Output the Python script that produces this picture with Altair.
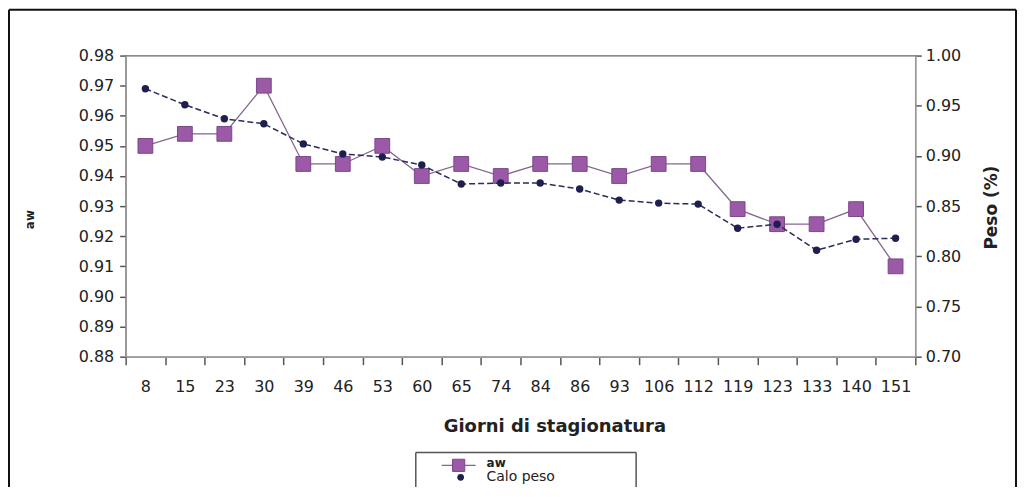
import altair as alt
import pandas as pd

# ---- data ----
giorni = ["8", "15", "23", "30", "39", "46", "53", "60", "65", "74",
          "84", "86", "93", "106", "112", "119", "123", "133", "140", "151"]
aw = [0.950, 0.954, 0.954, 0.970, 0.944, 0.944, 0.950, 0.940, 0.944, 0.940,
      0.944, 0.944, 0.940, 0.944, 0.944, 0.929, 0.924, 0.924, 0.929, 0.910]
calo_peso = [0.967, 0.951, 0.937, 0.932, 0.912, 0.902, 0.899, 0.891, 0.872, 0.873,
             0.873, 0.867, 0.856, 0.853, 0.852, 0.828, 0.832, 0.806, 0.817, 0.818]
aw_ticks = [0.88, 0.89, 0.90, 0.91, 0.92, 0.93, 0.94, 0.95, 0.96, 0.97, 0.98]
peso_ticks = [0.70, 0.75, 0.80, 0.85, 0.90, 0.95, 1.00]

df = pd.DataFrame({"giorni": giorni, "aw": aw, "calo": calo_peso})

FONT = "DejaVu Sans"
W, H = 792, 302

X = alt.X(
    "giorni:N",
    sort=giorni,
    scale=alt.Scale(type="band", paddingInner=0, paddingOuter=0),
    axis=alt.Axis(
        title="Giorni di stagionatura",
        labelAngle=0,
        labelFont=FONT, labelFontSize=16, labelColor="#222",
        labelPadding=14,
        tickBand="extent", tickSize=8, tickColor="#555", tickWidth=1.5,
        domainColor="#999", domainWidth=1.5,
        titleFont=FONT, titleFontSize=18, titleFontWeight="bold", titleColor="#222",
        titleX=430, titleY=70, titleAlign="center", titleBaseline="middle",
    ),
)

Y_aw = alt.Y(
    "aw:Q",
    scale=alt.Scale(domain=[0.88, 0.98], nice=False, zero=False),
    axis=alt.Axis(
        orient="left", values=aw_ticks, format=".2f", grid=False,
        labelFont=FONT, labelFontSize=16, labelColor="#222", labelPadding=6,
        tickSize=6, tickColor="#555", tickWidth=1.5,
        domainColor="#999", domainWidth=1.5,
        title="aw", titleFont=FONT, titleFontSize=12, titleFontWeight="bold",
        titleColor="#222", titleAngle=270, titleX=-96, titleY=164,
        titleAlign="center", titleBaseline="middle",
    ),
)

Y_calo = alt.Y(
    "calo:Q",
    scale=alt.Scale(domain=[0.70, 1.00], nice=False, zero=False),
    axis=alt.Axis(
        orient="right", values=peso_ticks, format=".2f", grid=False,
        labelFont=FONT, labelFontSize=16, labelColor="#222", labelPadding=4,
        tickSize=6, tickColor="#555", tickWidth=1.5,
        domainColor="#999", domainWidth=1.5,
        title="Peso (%)", titleFont=FONT, titleFontSize=17, titleFontWeight="bold",
        titleColor="#222", titleAngle=270, titleX=76, titleY=152,
        titleAlign="center", titleBaseline="middle",
    ),
)

base = alt.Chart(df)

aw_layer = alt.layer(
    base.mark_line(color="#86668e", strokeWidth=1.3).encode(x=X, y=Y_aw),
    base.mark_point(shape="square", filled=True, size=220, color="#9b59a8",
                    stroke="#7a4788", strokeWidth=1, opacity=1).encode(x=X, y=Y_aw),
)

calo_layer = alt.layer(
    base.mark_line(color="#2b2b5c", strokeWidth=1.5, strokeDash=[6, 3]).encode(x=X, y=Y_calo),
    base.mark_point(shape="circle", filled=True, size=55, color="#1f1f4f",
                    opacity=1).encode(x=X, y=Y_calo),
)

main = alt.layer(aw_layer, calo_layer).resolve_scale(y="independent")

# ---- decorations: outer frame and legend box ----
one = alt.Chart(pd.DataFrame({"k": [0]}))

frame = alt.layer(
    one.mark_rule(color="#111", strokeWidth=2).encode(
        x=alt.value(-117), y=alt.value(-46), y2=alt.value(440)),
    one.mark_rule(color="#111", strokeWidth=2).encode(
        x=alt.value(-117), x2=alt.value(893), y=alt.value(-46)),
    one.mark_rule(color="#111", strokeWidth=2).encode(
        x=alt.value(893), y=alt.value(-46), y2=alt.value(440)),
)

legend = alt.layer(
    one.mark_rule(color="#555", strokeWidth=1.5).encode(
        x=alt.value(291), x2=alt.value(512), y=alt.value(398)),
    one.mark_rule(color="#555", strokeWidth=1.5).encode(
        x=alt.value(291), y=alt.value(398), y2=alt.value(440)),
    one.mark_rule(color="#555", strokeWidth=1.5).encode(
        x=alt.value(512), y=alt.value(398), y2=alt.value(440)),
    one.mark_rule(color="#86668e", strokeWidth=1.3).encode(
        x=alt.value(317), x2=alt.value(351), y=alt.value(411)),
    one.mark_point(shape="square", filled=True, size=150, color="#9b59a8",
                   stroke="#7a4788", strokeWidth=1, opacity=1).encode(
        x=alt.value(334), y=alt.value(411)),
    one.mark_point(shape="circle", filled=True, size=45, color="#1f1f4f",
                   opacity=1).encode(x=alt.value(336), y=alt.value(423)),
    one.mark_text(align="left", baseline="middle", font=FONT, fontSize=12,
                  fontWeight="bold", color="#222").encode(
        x=alt.value(362), y=alt.value(409), text=alt.value("aw")),
    one.mark_text(align="left", baseline="middle", font=FONT, fontSize=14,
                  color="#222").encode(
        x=alt.value(362), y=alt.value(423), text=alt.value("Calo peso")),
)

chart = alt.layer(main, frame, legend).properties(
    width=W, height=H,
    autosize=alt.AutoSizeParams(type="none"),
    padding={"left": 118, "top": 47, "right": 102, "bottom": 130},
    background="white",
).configure_view(stroke="#666", strokeWidth=1.2)

chart.save("out.html", embed_options={"renderer": "svg", "actions": False})
